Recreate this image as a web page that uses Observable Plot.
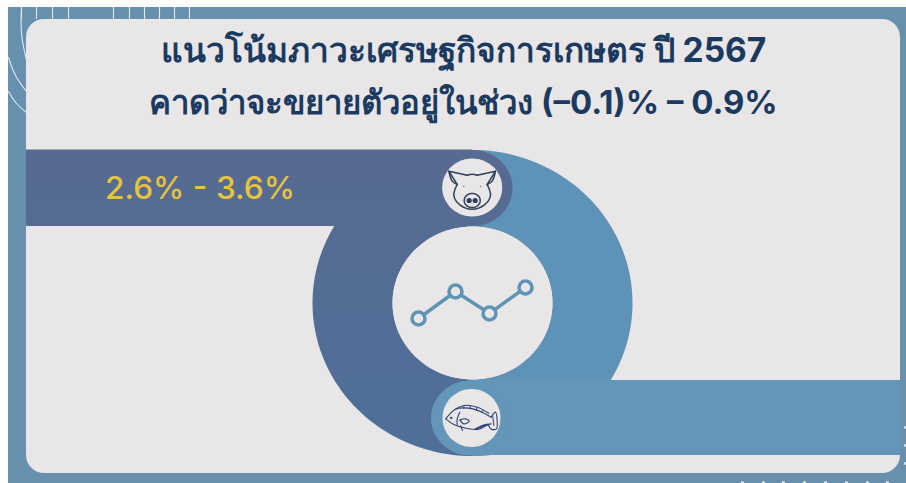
<!DOCTYPE html>
<html><head><meta charset="utf-8">
<script src="https://cdn.jsdelivr.net/npm/d3@7"></script>
<script src="https://cdn.jsdelivr.net/npm/@observablehq/plot@0.6"></script>
<style>html,body{margin:0;padding:0;background:#fff}svg{display:block}</style>
</head><body><div id="c"></div>
<script>
const titleLines = ["แนวโน้มภาวะเศรษฐกิจการเกษตร ปี 2567", "คาดว่าจะขยายตัวอยู่ในช่วง (–0.1)% – 0.9%"];
const titleY = [61, 113];
const titleSize = [33.5, 32.9];
const rangeLabel = "2.6% - 3.6%";
const trendX = [418, 455, 489, 525];
const trendY = [318, 291, 313, 287];
const topTicks = [21, 36, 52, 68, 113, 129, 144, 159, 174, 189];
const bottomDots = [742, 763, 783, 804, 825, 846, 867, 887];
const sideDots = [427, 445, 463];
const C = {bg:"#6790ae", card:"#e8e6e7", dark:"url(#darkFade)", light:"#5f92b7", bar:"#6496b9", navy:"#1b3a5f", yellow:"#e6c23f", icon:"#2f3f5c", fish:"#2e4273", deco:"#dfe8ee"};
const FONT = "Inter,'Noto Sans',sans-serif";

const ell = (cx, cy, rx, ry, a0 = 0, a1 = 360, n = 90) => d3.range(n + 1).map(i => {
  const a = (a0 + (a1 - a0) * i / n) * Math.PI / 180;
  return {x: cx + rx * Math.cos(a), y: cy + ry * Math.sin(a)};
});
const shape = (pts, fill) => Plot.line(pts, {x: "x", y: "y", fill, stroke: "none", curve: "linear-closed"});
const zoomPts = a => a.map(([x, y]) => ({x: x / 3 + 300, y: y / 3 + 140}));
const stroke = (a, color, w = 1.2, curve = "catmull-rom") => Plot.line(zoomPts(a), {x: "x", y: "y", stroke: color, strokeWidth: w, curve});
const arc = a => Plot.line(a.map(([x, y]) => ({x, y})), {x: "x", y: "y", stroke: C.deco, strokeWidth: 1.1, curve: "catmull-rom"});
const rect = (x1, y1, x2, y2, fill, rx = 0) => Plot.rect([{x1, y1, x2, y2}], {x1: "x1", x2: "x2", y1: "y1", y2: "y2", fill, rx, inset: 0});
const gradient = () => {
  const defs = d3.create("svg:defs");
  const g = defs.append("linearGradient").attr("id", "darkFade").attr("gradientUnits", "userSpaceOnUse")
    .attr("x1", 0).attr("x2", 0).attr("y1", 150).attr("y2", 455);
  g.append("stop").attr("offset", 0).attr("stop-color", "#576a91");
  g.append("stop").attr("offset", 1).attr("stop-color", "#4e7098");
  return defs.node();
};

const cx = 472, cy = 302.5;
const half = (a0, a1) => [...ell(cx, cy, 160, 153, a0, a1), ...ell(cx, cy, 80, 76.5, a1, a0)];

const marks = [
  gradient,
  rect(8, 7, 906, 483, C.bg),
  Plot.ruleX(topTicks, {x: d => d, y1: 7, y2: 19, stroke: C.deco, strokeWidth: 1.1}),
  arc([[21,7],[21,33],[26,60]]),
  arc([[8,57],[15,75],[26,91]]),
  arc([[8,91],[16,103],[26,112]]),
  Plot.dot(bottomDots, {x: d => d, y: () => 482, r: 1.6, fill: C.deco}),
  Plot.dot(sideDots, {x: () => 905, y: d => d, r: 1.4, fill: C.deco}),
  rect(26, 19, 900, 473, C.card, 18),
  shape(half(-90, 90), C.light),
  shape(half(90, 270), C.dark),
  rect(26, 149.5, cx, 226, C.dark),
  shape(ell(472, 187.5, 40, 38), C.dark),
  rect(470, 380, 900, 455, C.bar),
  shape(ell(470, 417.5, 39.5, 37.5), C.bar),
  shape(ell(cx, cy, 80, 76.5), C.card),
  shape(ell(471.7, 187, 30, 29), C.card),
  shape(ell(471, 417.5, 29, 29), C.card),
  // trend line
  Plot.line(trendX.map((x, i) => ({x, y: trendY[i]})), {x: "x", y: "y", stroke: "#6094b5", strokeWidth: 3.5}),
  Plot.dot(trendX.map((x, i) => ({x, y: trendY[i]})), {x: "x", y: "y", r: 6.5, fill: C.card, stroke: "#6094b5", strokeWidth: 3.5}),
  // pig
  stroke([[470,132],[445,92],[500,104]], C.icon, 1.5, "linear"),
  stroke([[560,132],[585,92],[530,104]], C.icon, 1.5, "linear"),
  stroke([[445,92],[455,122],[470,132]], C.icon, 1.5),
  stroke([[585,92],[575,122],[560,132]], C.icon, 1.5),
  stroke([[500,104],[515,101],[530,104]], C.icon, 1.5),
  stroke([[470,132],[460,165],[478,193],[515,206],[552,193],[570,165],[560,132]], C.icon, 1.5),
  Plot.line(ell(471.7, 200, 8, 7), {x:"x",y:"y",stroke:C.icon,strokeWidth:1.5}),
  Plot.dot(zoomPts([[506,180],[524,180]]), {x:"x",y:"y",r:2.6,fill:C.icon}),
  Plot.dot(zoomPts([[490,138],[540,138]]), {x:"x",y:"y",r:.8,fill:"#777"}),
  // fish
  stroke([[436,835],[465,806],[505,803],[545,815],[572,830]], C.fish, 1.1),
  stroke([[465,806],[490,795],[530,800],[565,818]], C.fish, 1.1),
  stroke([[490,795],[490,804]], C.fish, 1),
  stroke([[510,797],[508,804]], C.fish, 1),
  stroke([[530,800],[527,809]], C.fish, 1),
  stroke([[548,809],[544,815]], C.fish, 1),
  stroke([[436,835],[460,852],[500,864],[535,866],[563,852],[572,850]], C.fish, 1.1),
  stroke([[572,830],[585,815],[590,840],[588,865],[572,866],[563,852]], C.fish, 1.1),
  stroke([[577,828],[580,855]], C.fish, 1),
  stroke([[478,815],[470,835],[470,852]], C.fish, 1.1),
  stroke([[478,838],[495,835],[506,842],[490,850],[478,838]], C.fish, 1.2),
  stroke([[480,856],[486,870]], C.fish, 1.1),
  stroke([[525,866],[550,855],[563,852]], C.fish, 2),
  Plot.dot(zoomPts([[452,832]]), {x:"x",y:"y",r:1.2,fill:C.fish}),
  // text
  Plot.text(titleLines, {x: () => 463, y: (d, i) => titleY[i], text: d => d, fontSize: (d, i) => titleSize[i], fontWeight: 700, fill: C.navy, textAnchor: "middle", lineAnchor: "bottom", fontFamily: FONT}),
  Plot.text([rangeLabel], {x: () => 199.5, y: () => 198, text: d => d, fontSize: 31.6, fontWeight: 500, fill: C.yellow, textAnchor: "middle", lineAnchor: "bottom", fontFamily: FONT})
];

const chart = Plot.plot({
  width: 906, height: 483, margin: 0,
  x: {domain: [0, 906], range: [0, 906], axis: null},
  y: {domain: [0, 483], range: [0, 483], axis: null},
  style: {background: "#fff"},
  marks
});
document.getElementById("c").append(chart);
</script></body></html>
